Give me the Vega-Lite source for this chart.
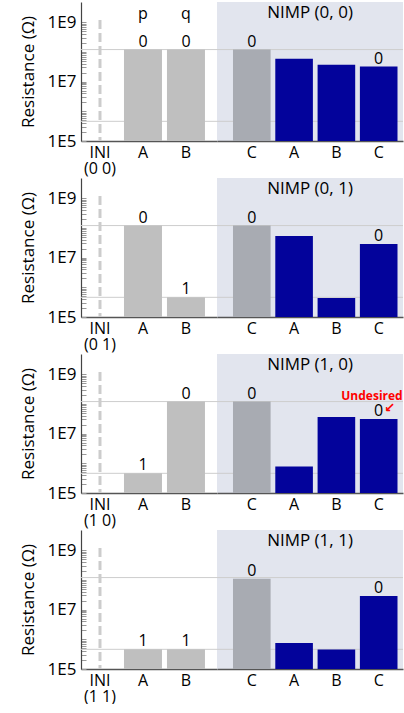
{
"$schema":"https://vega.github.io/schema/vega-lite/v6.json",
"background":"white",
"padding":{"left":19,"top":2,"right":0,"bottom":0},
"autosize":{"type":"pad"},
"config":{"font":"Open Sans","view":{"stroke":null},"text":{"font":"Open Sans"},"axis":{"labelFont":"Open Sans","titleFont":"Open Sans"}},
"datasets":{
"bars":[
{"p":1,"s":"L","cat":"A","kind":"input","value":1.2e8,"lab":"0"},
{"p":1,"s":"L","cat":"B","kind":"input","value":1.2e8,"lab":"0"},
{"p":1,"s":"R","cat":"Cg","kind":"init","value":1.2e8,"lab":"0"},
{"p":1,"s":"R","cat":"Ar","kind":"out","value":5.9e7,"lab":""},
{"p":1,"s":"R","cat":"Br","kind":"out","value":3.7e7,"lab":""},
{"p":1,"s":"R","cat":"Cr","kind":"out","value":3.2e7,"lab":"0"},
{"p":2,"s":"L","cat":"A","kind":"input","value":1.2e8,"lab":"0"},
{"p":2,"s":"L","cat":"B","kind":"input","value":4.6e5,"lab":"1"},
{"p":2,"s":"R","cat":"Cg","kind":"init","value":1.2e8,"lab":"0"},
{"p":2,"s":"R","cat":"Ar","kind":"out","value":5.3e7,"lab":""},
{"p":2,"s":"R","cat":"Br","kind":"out","value":4.4e5,"lab":""},
{"p":2,"s":"R","cat":"Cr","kind":"out","value":2.9e7,"lab":"0"},
{"p":3,"s":"L","cat":"A","kind":"input","value":4.6e5,"lab":"1"},
{"p":3,"s":"L","cat":"B","kind":"input","value":1.2e8,"lab":"0"},
{"p":3,"s":"R","cat":"Cg","kind":"init","value":1.2e8,"lab":"0"},
{"p":3,"s":"R","cat":"Ar","kind":"out","value":7.8e5,"lab":""},
{"p":3,"s":"R","cat":"Br","kind":"out","value":3.6e7,"lab":""},
{"p":3,"s":"R","cat":"Cr","kind":"out","value":3.1e7,"lab":"0"},
{"p":4,"s":"L","cat":"A","kind":"input","value":4.6e5,"lab":"1"},
{"p":4,"s":"L","cat":"B","kind":"input","value":4.6e5,"lab":"1"},
{"p":4,"s":"R","cat":"Cg","kind":"init","value":1.1e8,"lab":"0"},
{"p":4,"s":"R","cat":"Ar","kind":"out","value":7.5e5,"lab":""},
{"p":4,"s":"R","cat":"Br","kind":"out","value":4.5e5,"lab":""},
{"p":4,"s":"R","cat":"Cr","kind":"out","value":2.9e7,"lab":"0"}
],
"lines":[{"value":1.2e8},{"value":4.6e5}],
"heads":[{"cat":"A","t":"p"},{"cat":"B","t":"q"}]
},
"vconcat":[
{"hconcat":[
{"width":136,"height":139,"layer":[
{"data":{"name":"lines"},"mark":{"type":"rule","color":"#cdcdcd","strokeWidth":1},"encoding":{"y":{"field":"value","type":"quantitative","scale":{"type":"log","domain":[100000,4800000000],"nice":false}}}},
{"data":{"values":[{"cat":"INI"}]},"mark":{"type":"rule","color":"#cccccc","strokeWidth":3,"strokeDash":[9,4]},"encoding":{"x":{"field":"cat","type":"nominal","scale":{"domain":["INI","A","B"],"paddingInner":0.116,"paddingOuter":0.14,"align":0}},"y":{"datum":1200000000,"type":"quantitative","scale":{"type":"log","domain":[100000,4800000000],"nice":false}},"y2":{"datum":100000}}},
{"data":{"name":"bars"},"transform":[{"filter":"datum.p==1 && datum.s=='L'"}],"mark":{"type":"bar"},"encoding":{
"x":{"field":"cat","type":"nominal","scale":{"domain":["INI","A","B"],"paddingInner":0.116,"paddingOuter":0.14,"align":0},"axis":{"title":null,"ticks":false,"labelAngle":0,"labelAlign":"center","labelBaseline":"top","labelLineHeight":16,"labelFontSize":16,"labelColor":"#000","labelPadding":3,"domainColor":"#555","domainWidth":1.5,"labelExpr":"datum.value=='INI'?['INI','(0 0)']:datum.value"}},
"y":{"field":"value","type":"quantitative","scale":{"type":"log","domain":[100000,4800000000],"nice":false},"axis":{"title":"Resistance (Ω)","titleFontSize":17,"titleFontWeight":"normal","titleColor":"#000","titlePadding":10,"values":[100000,200000,300000,400000,500000,600000,700000,800000,900000,1000000,2000000,3000000,4000000,5000000,6000000,7000000,8000000,9000000,10000000,20000000,30000000,40000000,50000000,60000000,70000000,80000000,90000000,100000000,200000000,300000000,400000000,500000000,600000000,700000000,800000000,900000000,1000000000],"labelExpr":"datum.value==1e9?'1E9':datum.value==1e7?'1E7':datum.value==1e5?'1E5':''","labelFontSize":17,"labelColor":"#000","labelPadding":10,"tickSize":-5,"tickColor":"#999","domainColor":"#444","domainWidth":1.2,"grid":false,"labelOverlap":false,"labelFlush":false}},
"y2":{"datum":100000},
"color":{"field":"kind","type":"nominal","scale":{"domain":["input","init","out"],"range":["#bfbfbf","#a8abb2","#03039b"]},"legend":null}}},
{"data":{"name":"bars"},"transform":[{"filter":"datum.p==1 && datum.s=='L' && datum.lab!=''"}],"mark":{"type":"text","baseline":"alphabetic","dy":-3,"fontSize":16,"color":"#000"},"encoding":{"x":{"field":"cat","type":"nominal","scale":{"domain":["INI","A","B"],"paddingInner":0.116,"paddingOuter":0.14,"align":0}},"y":{"field":"value","type":"quantitative","scale":{"type":"log","domain":[100000,4800000000],"nice":false}},"text":{"field":"lab"}}},
{"data":{"name":"heads"},"mark":{"type":"text","baseline":"alphabetic","fontSize":16,"color":"#000"},"encoding":{"x":{"field":"cat","type":"nominal","scale":{"domain":["INI","A","B"],"paddingInner":0.116,"paddingOuter":0.14,"align":0}},"y":{"datum":1300000000,"type":"quantitative","scale":{"type":"log","domain":[100000,4800000000],"nice":false}},"text":{"field":"t"}}}
]},
{"width":186,"height":139,"view":{"fill":"#e2e5ee","stroke":null},"layer":[
{"data":{"name":"lines"},"mark":{"type":"rule","color":"#cdcdcd","strokeWidth":1},"encoding":{"y":{"field":"value","type":"quantitative","scale":{"type":"log","domain":[100000,4800000000],"nice":false},"axis":null}}},
{"data":{"name":"bars"},"transform":[{"filter":"datum.p==1 && datum.s=='R'"}],"mark":{"type":"bar"},"encoding":{
"x":{"field":"cat","type":"nominal","scale":{"domain":["Cg","Ar","Br","Cr"],"paddingInner":0.111,"paddingOuter":0.254,"align":0.744},"axis":{"title":null,"ticks":false,"labelAngle":0,"labelAlign":"center","labelBaseline":"top","labelFontSize":16,"labelColor":"#000","labelPadding":3,"domainColor":"#555","domainWidth":1.5,"labelExpr":"substring(datum.value,0,1)"}},
"y":{"field":"value","type":"quantitative","scale":{"type":"log","domain":[100000,4800000000],"nice":false},"axis":null},
"y2":{"datum":100000},
"color":{"field":"kind","type":"nominal","scale":{"domain":["input","init","out"],"range":["#bfbfbf","#a8abb2","#03039b"]},"legend":null}}},
{"data":{"name":"bars"},"transform":[{"filter":"datum.p==1 && datum.s=='R' && datum.lab!=''"}],"mark":{"type":"text","baseline":"alphabetic","dy":-3,"fontSize":16,"color":"#000"},"encoding":{"x":{"field":"cat","type":"nominal","scale":{"domain":["Cg","Ar","Br","Cr"],"paddingInner":0.111,"paddingOuter":0.254,"align":0.744}},"y":{"field":"value","type":"quantitative","scale":{"type":"log","domain":[100000,4800000000],"nice":false},"axis":null},"text":{"field":"lab"}}},
{"data":{"values":[{"t":"NIMP (0, 0)"}]},"mark":{"type":"text","baseline":"alphabetic","fontSize":17,"color":"#000"},"encoding":{"y":{"datum":1400000000,"type":"quantitative","scale":{"type":"log","domain":[100000,4800000000],"nice":false},"axis":null},"text":{"field":"t"}}}
]}
],"spacing":0,"bounds":"flush"},
{"hconcat":[
{"width":136,"height":139,"layer":[
{"data":{"name":"lines"},"mark":{"type":"rule","color":"#cdcdcd","strokeWidth":1},"encoding":{"y":{"field":"value","type":"quantitative","scale":{"type":"log","domain":[100000,4800000000],"nice":false}}}},
{"data":{"values":[{"cat":"INI"}]},"mark":{"type":"rule","color":"#cccccc","strokeWidth":3,"strokeDash":[9,4]},"encoding":{"x":{"field":"cat","type":"nominal","scale":{"domain":["INI","A","B"],"paddingInner":0.116,"paddingOuter":0.14,"align":0}},"y":{"datum":1200000000,"type":"quantitative","scale":{"type":"log","domain":[100000,4800000000],"nice":false}},"y2":{"datum":100000}}},
{"data":{"name":"bars"},"transform":[{"filter":"datum.p==2 && datum.s=='L'"}],"mark":{"type":"bar"},"encoding":{
"x":{"field":"cat","type":"nominal","scale":{"domain":["INI","A","B"],"paddingInner":0.116,"paddingOuter":0.14,"align":0},"axis":{"title":null,"ticks":false,"labelAngle":0,"labelAlign":"center","labelBaseline":"top","labelLineHeight":16,"labelFontSize":16,"labelColor":"#000","labelPadding":3,"domainColor":"#555","domainWidth":1.5,"labelExpr":"datum.value=='INI'?['INI','(0 1)']:datum.value"}},
"y":{"field":"value","type":"quantitative","scale":{"type":"log","domain":[100000,4800000000],"nice":false},"axis":{"title":"Resistance (Ω)","titleFontSize":17,"titleFontWeight":"normal","titleColor":"#000","titlePadding":10,"values":[100000,200000,300000,400000,500000,600000,700000,800000,900000,1000000,2000000,3000000,4000000,5000000,6000000,7000000,8000000,9000000,10000000,20000000,30000000,40000000,50000000,60000000,70000000,80000000,90000000,100000000,200000000,300000000,400000000,500000000,600000000,700000000,800000000,900000000,1000000000],"labelExpr":"datum.value==1e9?'1E9':datum.value==1e7?'1E7':datum.value==1e5?'1E5':''","labelFontSize":17,"labelColor":"#000","labelPadding":10,"tickSize":-5,"tickColor":"#999","domainColor":"#444","domainWidth":1.2,"grid":false,"labelOverlap":false,"labelFlush":false}},
"y2":{"datum":100000},
"color":{"field":"kind","type":"nominal","scale":{"domain":["input","init","out"],"range":["#bfbfbf","#a8abb2","#03039b"]},"legend":null}}},
{"data":{"name":"bars"},"transform":[{"filter":"datum.p==2 && datum.s=='L' && datum.lab!=''"}],"mark":{"type":"text","baseline":"alphabetic","dy":-3,"fontSize":16,"color":"#000"},"encoding":{"x":{"field":"cat","type":"nominal","scale":{"domain":["INI","A","B"],"paddingInner":0.116,"paddingOuter":0.14,"align":0}},"y":{"field":"value","type":"quantitative","scale":{"type":"log","domain":[100000,4800000000],"nice":false}},"text":{"field":"lab"}}}
]},
{"width":186,"height":139,"view":{"fill":"#e2e5ee","stroke":null},"layer":[
{"data":{"name":"lines"},"mark":{"type":"rule","color":"#cdcdcd","strokeWidth":1},"encoding":{"y":{"field":"value","type":"quantitative","scale":{"type":"log","domain":[100000,4800000000],"nice":false},"axis":null}}},
{"data":{"name":"bars"},"transform":[{"filter":"datum.p==2 && datum.s=='R'"}],"mark":{"type":"bar"},"encoding":{
"x":{"field":"cat","type":"nominal","scale":{"domain":["Cg","Ar","Br","Cr"],"paddingInner":0.111,"paddingOuter":0.254,"align":0.744},"axis":{"title":null,"ticks":false,"labelAngle":0,"labelAlign":"center","labelBaseline":"top","labelFontSize":16,"labelColor":"#000","labelPadding":3,"domainColor":"#555","domainWidth":1.5,"labelExpr":"substring(datum.value,0,1)"}},
"y":{"field":"value","type":"quantitative","scale":{"type":"log","domain":[100000,4800000000],"nice":false},"axis":null},
"y2":{"datum":100000},
"color":{"field":"kind","type":"nominal","scale":{"domain":["input","init","out"],"range":["#bfbfbf","#a8abb2","#03039b"]},"legend":null}}},
{"data":{"name":"bars"},"transform":[{"filter":"datum.p==2 && datum.s=='R' && datum.lab!=''"}],"mark":{"type":"text","baseline":"alphabetic","dy":-3,"fontSize":16,"color":"#000"},"encoding":{"x":{"field":"cat","type":"nominal","scale":{"domain":["Cg","Ar","Br","Cr"],"paddingInner":0.111,"paddingOuter":0.254,"align":0.744}},"y":{"field":"value","type":"quantitative","scale":{"type":"log","domain":[100000,4800000000],"nice":false},"axis":null},"text":{"field":"lab"}}},
{"data":{"values":[{"t":"NIMP (0, 1)"}]},"mark":{"type":"text","baseline":"alphabetic","fontSize":17,"color":"#000"},"encoding":{"y":{"datum":1400000000,"type":"quantitative","scale":{"type":"log","domain":[100000,4800000000],"nice":false},"axis":null},"text":{"field":"t"}}}
]}
],"spacing":0,"bounds":"flush"},
{"hconcat":[
{"width":136,"height":139,"layer":[
{"data":{"name":"lines"},"mark":{"type":"rule","color":"#cdcdcd","strokeWidth":1},"encoding":{"y":{"field":"value","type":"quantitative","scale":{"type":"log","domain":[100000,4800000000],"nice":false}}}},
{"data":{"values":[{"cat":"INI"}]},"mark":{"type":"rule","color":"#cccccc","strokeWidth":3,"strokeDash":[9,4]},"encoding":{"x":{"field":"cat","type":"nominal","scale":{"domain":["INI","A","B"],"paddingInner":0.116,"paddingOuter":0.14,"align":0}},"y":{"datum":1200000000,"type":"quantitative","scale":{"type":"log","domain":[100000,4800000000],"nice":false}},"y2":{"datum":100000}}},
{"data":{"name":"bars"},"transform":[{"filter":"datum.p==3 && datum.s=='L'"}],"mark":{"type":"bar"},"encoding":{
"x":{"field":"cat","type":"nominal","scale":{"domain":["INI","A","B"],"paddingInner":0.116,"paddingOuter":0.14,"align":0},"axis":{"title":null,"ticks":false,"labelAngle":0,"labelAlign":"center","labelBaseline":"top","labelLineHeight":16,"labelFontSize":16,"labelColor":"#000","labelPadding":3,"domainColor":"#555","domainWidth":1.5,"labelExpr":"datum.value=='INI'?['INI','(1 0)']:datum.value"}},
"y":{"field":"value","type":"quantitative","scale":{"type":"log","domain":[100000,4800000000],"nice":false},"axis":{"title":"Resistance (Ω)","titleFontSize":17,"titleFontWeight":"normal","titleColor":"#000","titlePadding":10,"values":[100000,200000,300000,400000,500000,600000,700000,800000,900000,1000000,2000000,3000000,4000000,5000000,6000000,7000000,8000000,9000000,10000000,20000000,30000000,40000000,50000000,60000000,70000000,80000000,90000000,100000000,200000000,300000000,400000000,500000000,600000000,700000000,800000000,900000000,1000000000],"labelExpr":"datum.value==1e9?'1E9':datum.value==1e7?'1E7':datum.value==1e5?'1E5':''","labelFontSize":17,"labelColor":"#000","labelPadding":10,"tickSize":-5,"tickColor":"#999","domainColor":"#444","domainWidth":1.2,"grid":false,"labelOverlap":false,"labelFlush":false}},
"y2":{"datum":100000},
"color":{"field":"kind","type":"nominal","scale":{"domain":["input","init","out"],"range":["#bfbfbf","#a8abb2","#03039b"]},"legend":null}}},
{"data":{"name":"bars"},"transform":[{"filter":"datum.p==3 && datum.s=='L' && datum.lab!=''"}],"mark":{"type":"text","baseline":"alphabetic","dy":-3,"fontSize":16,"color":"#000"},"encoding":{"x":{"field":"cat","type":"nominal","scale":{"domain":["INI","A","B"],"paddingInner":0.116,"paddingOuter":0.14,"align":0}},"y":{"field":"value","type":"quantitative","scale":{"type":"log","domain":[100000,4800000000],"nice":false}},"text":{"field":"lab"}}}
]},
{"width":186,"height":139,"view":{"fill":"#e2e5ee","stroke":null},"layer":[
{"data":{"name":"lines"},"mark":{"type":"rule","color":"#cdcdcd","strokeWidth":1},"encoding":{"y":{"field":"value","type":"quantitative","scale":{"type":"log","domain":[100000,4800000000],"nice":false},"axis":null}}},
{"data":{"name":"bars"},"transform":[{"filter":"datum.p==3 && datum.s=='R'"}],"mark":{"type":"bar"},"encoding":{
"x":{"field":"cat","type":"nominal","scale":{"domain":["Cg","Ar","Br","Cr"],"paddingInner":0.111,"paddingOuter":0.254,"align":0.744},"axis":{"title":null,"ticks":false,"labelAngle":0,"labelAlign":"center","labelBaseline":"top","labelFontSize":16,"labelColor":"#000","labelPadding":3,"domainColor":"#555","domainWidth":1.5,"labelExpr":"substring(datum.value,0,1)"}},
"y":{"field":"value","type":"quantitative","scale":{"type":"log","domain":[100000,4800000000],"nice":false},"axis":null},
"y2":{"datum":100000},
"color":{"field":"kind","type":"nominal","scale":{"domain":["input","init","out"],"range":["#bfbfbf","#a8abb2","#03039b"]},"legend":null}}},
{"data":{"name":"bars"},"transform":[{"filter":"datum.p==3 && datum.s=='R' && datum.lab!=''"}],"mark":{"type":"text","baseline":"alphabetic","dy":-3,"fontSize":16,"color":"#000"},"encoding":{"x":{"field":"cat","type":"nominal","scale":{"domain":["Cg","Ar","Br","Cr"],"paddingInner":0.111,"paddingOuter":0.254,"align":0.744}},"y":{"field":"value","type":"quantitative","scale":{"type":"log","domain":[100000,4800000000],"nice":false},"axis":null},"text":{"field":"lab"}}},
{"data":{"values":[{"t":"NIMP (1, 0)"}]},"mark":{"type":"text","baseline":"alphabetic","fontSize":17,"color":"#000"},"encoding":{"y":{"datum":1400000000,"type":"quantitative","scale":{"type":"log","domain":[100000,4800000000],"nice":false},"axis":null},"text":{"field":"t"}}},
{"data":{"values":[{"cat":"Cr","t":"Undesired"}]},"mark":{"type":"text","baseline":"alphabetic","align":"right","dx":24,"fontSize":12,"fontWeight":"bold","color":"#ff0000"},"encoding":{"x":{"field":"cat","type":"nominal","scale":{"domain":["Cg","Ar","Br","Cr"],"paddingInner":0.111,"paddingOuter":0.254,"align":0.744}},"y":{"datum":136000000,"type":"quantitative","scale":{"type":"log","domain":[100000,4800000000],"nice":false},"axis":null},"text":{"field":"t"}}},
{"data":{"values":[{"cat":"Cr","t":"↙"}]},"mark":{"type":"text","baseline":"middle","dx":11,"fontSize":13,"fontWeight":"bold","font":"DejaVu Sans","color":"#ff0000"},"encoding":{"x":{"field":"cat","type":"nominal","scale":{"domain":["Cg","Ar","Br","Cr"],"paddingInner":0.111,"paddingOuter":0.254,"align":0.744}},"y":{"datum":73000000,"type":"quantitative","scale":{"type":"log","domain":[100000,4800000000],"nice":false},"axis":null},"text":{"field":"t"}}}
]}
],"spacing":0,"bounds":"flush"},
{"hconcat":[
{"width":136,"height":139,"layer":[
{"data":{"name":"lines"},"mark":{"type":"rule","color":"#cdcdcd","strokeWidth":1},"encoding":{"y":{"field":"value","type":"quantitative","scale":{"type":"log","domain":[100000,4800000000],"nice":false}}}},
{"data":{"values":[{"cat":"INI"}]},"mark":{"type":"rule","color":"#cccccc","strokeWidth":3,"strokeDash":[9,4]},"encoding":{"x":{"field":"cat","type":"nominal","scale":{"domain":["INI","A","B"],"paddingInner":0.116,"paddingOuter":0.14,"align":0}},"y":{"datum":1200000000,"type":"quantitative","scale":{"type":"log","domain":[100000,4800000000],"nice":false}},"y2":{"datum":100000}}},
{"data":{"name":"bars"},"transform":[{"filter":"datum.p==4 && datum.s=='L'"}],"mark":{"type":"bar"},"encoding":{
"x":{"field":"cat","type":"nominal","scale":{"domain":["INI","A","B"],"paddingInner":0.116,"paddingOuter":0.14,"align":0},"axis":{"title":null,"ticks":false,"labelAngle":0,"labelAlign":"center","labelBaseline":"top","labelLineHeight":16,"labelFontSize":16,"labelColor":"#000","labelPadding":3,"domainColor":"#555","domainWidth":1.5,"labelExpr":"datum.value=='INI'?['INI','(1 1)']:datum.value"}},
"y":{"field":"value","type":"quantitative","scale":{"type":"log","domain":[100000,4800000000],"nice":false},"axis":{"title":"Resistance (Ω)","titleFontSize":17,"titleFontWeight":"normal","titleColor":"#000","titlePadding":10,"values":[100000,200000,300000,400000,500000,600000,700000,800000,900000,1000000,2000000,3000000,4000000,5000000,6000000,7000000,8000000,9000000,10000000,20000000,30000000,40000000,50000000,60000000,70000000,80000000,90000000,100000000,200000000,300000000,400000000,500000000,600000000,700000000,800000000,900000000,1000000000],"labelExpr":"datum.value==1e9?'1E9':datum.value==1e7?'1E7':datum.value==1e5?'1E5':''","labelFontSize":17,"labelColor":"#000","labelPadding":10,"tickSize":-5,"tickColor":"#999","domainColor":"#444","domainWidth":1.2,"grid":false,"labelOverlap":false,"labelFlush":false}},
"y2":{"datum":100000},
"color":{"field":"kind","type":"nominal","scale":{"domain":["input","init","out"],"range":["#bfbfbf","#a8abb2","#03039b"]},"legend":null}}},
{"data":{"name":"bars"},"transform":[{"filter":"datum.p==4 && datum.s=='L' && datum.lab!=''"}],"mark":{"type":"text","baseline":"alphabetic","dy":-3,"fontSize":16,"color":"#000"},"encoding":{"x":{"field":"cat","type":"nominal","scale":{"domain":["INI","A","B"],"paddingInner":0.116,"paddingOuter":0.14,"align":0}},"y":{"field":"value","type":"quantitative","scale":{"type":"log","domain":[100000,4800000000],"nice":false}},"text":{"field":"lab"}}}
]},
{"width":186,"height":139,"view":{"fill":"#e2e5ee","stroke":null},"layer":[
{"data":{"name":"lines"},"mark":{"type":"rule","color":"#cdcdcd","strokeWidth":1},"encoding":{"y":{"field":"value","type":"quantitative","scale":{"type":"log","domain":[100000,4800000000],"nice":false},"axis":null}}},
{"data":{"name":"bars"},"transform":[{"filter":"datum.p==4 && datum.s=='R'"}],"mark":{"type":"bar"},"encoding":{
"x":{"field":"cat","type":"nominal","scale":{"domain":["Cg","Ar","Br","Cr"],"paddingInner":0.111,"paddingOuter":0.254,"align":0.744},"axis":{"title":null,"ticks":false,"labelAngle":0,"labelAlign":"center","labelBaseline":"top","labelFontSize":16,"labelColor":"#000","labelPadding":3,"domainColor":"#555","domainWidth":1.5,"labelExpr":"substring(datum.value,0,1)"}},
"y":{"field":"value","type":"quantitative","scale":{"type":"log","domain":[100000,4800000000],"nice":false},"axis":null},
"y2":{"datum":100000},
"color":{"field":"kind","type":"nominal","scale":{"domain":["input","init","out"],"range":["#bfbfbf","#a8abb2","#03039b"]},"legend":null}}},
{"data":{"name":"bars"},"transform":[{"filter":"datum.p==4 && datum.s=='R' && datum.lab!=''"}],"mark":{"type":"text","baseline":"alphabetic","dy":-3,"fontSize":16,"color":"#000"},"encoding":{"x":{"field":"cat","type":"nominal","scale":{"domain":["Cg","Ar","Br","Cr"],"paddingInner":0.111,"paddingOuter":0.254,"align":0.744}},"y":{"field":"value","type":"quantitative","scale":{"type":"log","domain":[100000,4800000000],"nice":false},"axis":null},"text":{"field":"lab"}}},
{"data":{"values":[{"t":"NIMP (1, 1)"}]},"mark":{"type":"text","baseline":"alphabetic","fontSize":17,"color":"#000"},"encoding":{"y":{"datum":1400000000,"type":"quantitative","scale":{"type":"log","domain":[100000,4800000000],"nice":false},"axis":null},"text":{"field":"t"}}}
]}
],"spacing":0,"bounds":"flush"}
],
"spacing":2
}
